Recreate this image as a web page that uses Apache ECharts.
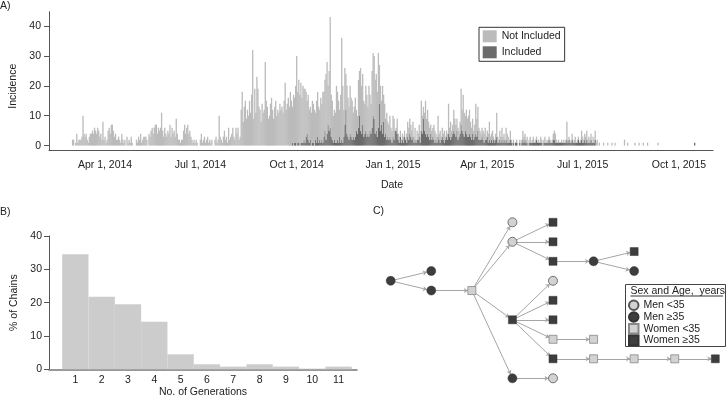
<!DOCTYPE html>
<html><head><meta charset="utf-8">
<script src="https://cdn.jsdelivr.net/npm/echarts@6/dist/echarts.min.js"></script>
<style>html,body{margin:0;padding:0;background:#fff}#c{width:727px;height:405px}</style>
</head><body><div id="c"></div>
<script>
// ---------- Panel A data ----------
const axisStart = '2014-02-07';
const axisEnd = '2015-11-02';
const casesStart = '2014-03-01';
const totalCases = [
2,2,0,1,4,1,2,2,2,3,
10,4,3,4,2,1,3,4,4,5,
4,6,5,4,6,5,3,4,2,8,
2,3,1,2,5,6,4,7,7,5,
3,4,2,2,3,2,1,4,2,1,
2,0,3,1,2,1,3,1,0,0,
0,2,1,3,2,4,1,2,3,3,
3,2,0,4,3,5,6,4,6,7,
7,4,6,5,6,11,5,3,6,4,
3,5,4,7,3,6,4,5,3,9,
4,2,2,1,2,2,5,7,4,6,
7,4,5,3,2,1,2,1,2,1,
0,0,2,4,1,2,3,1,2,3,
1,2,1,2,0,0,2,3,1,2,
10,3,2,1,3,5,2,3,1,6,
2,3,4,6,3,2,6,4,6,2,
3,12,18,8,13,15,9,12,10,15,
11,17,32,9,19,11,23,19,13,12,
8,14,11,12,28,15,13,9,10,14,
16,12,9,13,15,10,12,11,14,12,
13,11,15,21,12,14,16,13,18,15,
13,17,16,20,30,18,22,17,21,16,
20,19,19,18,15,17,12,13,11,15,
14,12,11,15,18,13,12,16,14,18,
18,22,24,28,20,25,43,17,15,10,
12,11,20,18,15,12,17,36,20,12,
26,24,20,16,13,20,16,15,11,13,
16,12,10,22,25,26,20,24,15,14,
20,17,13,20,17,14,25,31,30,22,
24,18,31,27,20,15,20,17,14,9,
11,8,7,10,6,5,10,9,5,6,
9,4,3,5,2,4,3,5,2,4,
8,6,9,7,5,8,3,6,2,5,
4,7,3,15,10,13,11,15,9,12,
8,6,7,5,6,7,5,4,3,10,
4,5,3,6,4,5,3,5,4,14,
6,8,5,7,12,9,7,9,6,5,
8,19,12,17,11,10,12,9,10,12,
8,6,9,5,7,14,9,13,6,5,
4,6,5,4,6,3,5,4,8,3,
4,5,3,2,4,11,3,2,5,3,
6,3,4,2,6,4,3,2,5,2,
1,2,0,1,2,1,0,2,1,2,
5,3,4,2,3,1,2,3,1,2,
3,1,2,3,1,2,1,3,2,1,
2,3,1,2,1,3,2,1,2,4,
5,4,2,1,2,1,1,2,1,2,
1,2,8,2,3,1,2,4,1,2,
3,1,2,3,1,2,5,3,2,4,
3,5,2,3,2,4,1,3,2,5,
1,2,0,1,0,0,0,1,0,0,
0,1,0,0,0,1,0,0,1,0,
0,0,0,0,0,0,0,2,0,0,
1,0,0,0,0,0,0,1,0,0,
0,1,0,0,0,1,0,0,0,1,
0,0,0,0,0,0,0,0,0,1,
0,0,0,0,0,0,0,0,0,0,
0,0,0,0,0,0,0,0,0,0,
0,0,0,0,0,0,0,0,0,0,
0,0,0,0,1
];
const includedStart = '2014-09-27';
const includedCases = [
1,0,1,1,0,1,1,0,1,1,
1,2,1,3,4,2,1,2,0,1,
1,0,2,1,3,1,2,1,2,1,
3,5,2,4,7,5,6,3,2,1,
2,1,1,2,1,3,1,2,1,3,
7,12,4,3,2,4,3,2,3,2,
3,5,4,6,10,5,4,7,3,4,
5,3,4,3,5,4,6,10,9,4,
5,3,6,14,5,7,4,8,3,4,
2,3,2,3,2,1,3,2,5,5,
4,2,1,3,1,2,1,3,2,1,
3,2,4,3,2,3,1,2,1,2,
2,3,1,5,4,9,5,4,3,4,
3,2,4,2,3,2,1,2,1,3,
2,1,2,3,2,1,2,3,2,4,
3,2,3,4,5,4,3,5,2,3,
4,7,5,4,3,5,4,3,3,4,
3,2,4,2,3,4,3,5,2,2,
2,3,2,1,2,2,3,1,2,1,
2,1,2,1,2,3,1,1,2,1,
2,1,2,1,2,1,1,1,2,1,
0,1,0,1,1,0,0,1,0,1,
2,1,2,1,1,0,1,1,1,1,
1,1,1,2,1,1,1,1,1,0,
1,1,1,1,1,2,1,1,1,2,
2,1,1,1,1,1,1,1,1,1,
1,1,2,1,2,1,1,2,1,1,
1,1,1,2,1,1,2,1,1,2,
1,2,1,1,1,2,1,1,1,2,
0,0,0,0,0,0,0,0,0,0,
0,0,0,0,0,0,0,0,0,0,
0,0,0,0,0,0,0,0,0,0,
0,0,0,0,0,0,0,0,0,0,
0,0,0,0,0,0,0,0,0,0,
0,0,0,0,0,0,0,0,0,0,
0,0,0,0,0,0,0,0,0,0,
0,0,0,0,0,0,0,0,0,0,
0,0,0,0,0,0,0,0,0,0,
0,0,0,0,1
];
const tickDates = ['2014-04-01','2014-07-01','2014-10-01','2015-01-01','2015-04-01','2015-07-01','2015-10-01'];
const tickLabels = ['Apr 1, 2014','Jul 1, 2014','Oct 1, 2014','Jan 1, 2015','Apr 1, 2015','Jul 1, 2015','Oct 1, 2015'];
const incidenceTicks = [0,10,20,30,40];

// ---------- Panel B data ----------
const generations = [1,2,3,4,5,6,7,8,9,10,11];
const chainPercent = [34.5,21.8,19.5,14.3,4.5,1.5,0.8,1.5,0.8,0.2,0.8];
const chainTicks = [0,10,20,30,40];

// ---------- Panel C data ----------
const nodeCategories = ['Men <35','Men \u226535','Women <35','Women \u226535'];
const nodeGeneration = [0,1,1,2,3,3,3,3,4,4,4,4,4,4,4,4,4,5,5,5,6,6,6,7,8];
const nodeRow        = [3,2.5,3.5,3.5,0,1,5,8,0,1,2,3,4,5,6,7,8,2,6,7,1.5,2.5,7,7,7];
const nodeGroup      = [1,1,1,2,0,0,3,1,3,3,3,0,3,3,2,3,0,1,2,2,3,1,2,2,3];
const chainLinks = [[0,1],[0,2],[2,3],[3,4],[3,5],[3,6],[3,7],[5,8],[5,9],[5,10],
  [6,11],[6,12],[6,13],[6,14],[6,15],[7,16],[10,17],[14,18],[15,19],[17,20],[17,21],
  [19,22],[22,23],[23,24]];

// ---------- build ----------
const DAY = 86400000;
const toMs = s => Date.parse(s + 'T00:00:00Z');
const keyOf = ms => new Date(ms).toISOString().slice(0,10);
const days = [];
for (let t = toMs(axisStart); t <= toMs(axisEnd); t += DAY) days.push(keyOf(t));
const totalOff = Math.round((toMs(casesStart) - toMs(axisStart)) / DAY);
const incOff = Math.round((toMs(includedStart) - toMs(axisStart)) / DAY);
const incSeries = days.map((d, i) => includedCases[i - incOff] || 0);
const notIncSeries = days.map((d, i) => Math.max(0, (totalCases[i - totalOff] || 0) - incSeries[i]));
const isTick = (idx, val) => tickDates.indexOf(val) >= 0;

const FONT = 'Liberation Sans, Arial, Helvetica, sans-serif';
const AX = '#555';
const TXT = '#222';
const LIGHT = '#bbbbbb', DARK = '#6b6b6b';
const NODE_LIGHT = '#d2d2d2', NODE_DARK = '#3d3d3d';
const lab = {fontSize: 10.5, color: TXT, fontFamily: FONT};

const chart = echarts.init(document.getElementById('c'), null, {renderer: 'canvas'});
chart.setOption({
  animation: false,
  textStyle: {fontFamily: FONT},
  grid: [
    {left: 49, right: 14, top: 11.7, height: 139, containLabel: false, outerBoundsMode: 'none'},
    {left: 49, width: 308, top: 236, height: 133.3, containLabel: false, outerBoundsMode: 'none'},
    {left: 390.7, width: 324.6, top: 222.3, height: 156, containLabel: false, outerBoundsMode: 'none'}
  ],
  xAxis: [
    {type: 'category', gridIndex: 0, data: days, boundaryGap: true,
     axisLine: {onZero: false, lineStyle: {color: AX, width: 1}},
     axisTick: {alignWithLabel: true, interval: isTick, length: 5, lineStyle: {color: AX}},
     axisLabel: Object.assign({interval: isTick, margin: 9,
       formatter: v => tickLabels[tickDates.indexOf(v)]}, lab),
     splitLine: {show: false},
     name: 'Date', nameLocation: 'middle', nameGap: 29,
     nameTextStyle: Object.assign({padding: [0, 0, 0, 22]}, lab)},
    {type: 'value', gridIndex: 1, min: 0, max: 11.7,
     axisLine: {show: true, onZero: false, lineStyle: {color: '#777', width: 1.5}},
     axisTick: {show: false},
     axisLabel: Object.assign({customValues: generations, margin: 5}, lab),
     splitLine: {show: false},
     name: 'No. of Generations', nameLocation: 'middle', nameGap: 11, nameTextStyle: lab},
    {type: 'value', gridIndex: 2, min: 0, max: 8, show: false}
  ],
  yAxis: [
    {type: 'value', gridIndex: 0, min: -1.7, max: 44.8,
     axisLine: {show: true, lineStyle: {color: AX}},
     axisTick: {show: true, customValues: incidenceTicks, length: 5, lineStyle: {color: AX}},
     axisLabel: Object.assign({customValues: incidenceTicks, margin: 8}, lab),
     splitLine: {show: false},
     name: 'Incidence', nameLocation: 'middle', nameGap: 29, nameRotate: 90,
     nameTextStyle: Object.assign({padding: [0, 10, 0, 0]}, lab)},
    {type: 'value', gridIndex: 1, min: 0, max: 40, interval: 10,
     axisLine: {show: true, lineStyle: {color: AX}},
     axisTick: {show: true, length: 5, lineStyle: {color: AX}},
     axisLabel: Object.assign({margin: 7}, lab),
     splitLine: {show: false},
     name: '% of Chains', nameLocation: 'middle', nameGap: 29, nameRotate: 90, nameTextStyle: lab},
    {type: 'value', gridIndex: 2, min: 0, max: 8, inverse: true, show: false}
  ],
  legend: [
    {data: ['Not Included', 'Included'], orient: 'vertical', left: 479, top: 27.3,
     icon: 'rect', itemWidth: 14, itemHeight: 12, itemGap: 4, padding: [3, 4, 3, 3.7],
     borderColor: '#333', borderWidth: 1,
     textStyle: {fontSize: 10.5, color: TXT, fontFamily: FONT, lineHeight: 12}, selectedMode: false},
    {data: [{name: nodeCategories[0], icon: 'circle'}, {name: nodeCategories[1], icon: 'circle'},
            {name: nodeCategories[2], icon: 'rect'}, {name: nodeCategories[3], icon: 'rect'}],
     orient: 'vertical', left: 628, top: 299.5, itemWidth: 9.5, itemHeight: 9.5, itemGap: 0.2, padding: 0,
     textStyle: {fontSize: 10.5, color: TXT, fontFamily: FONT, lineHeight: 9.5}, selectedMode: false}
  ],
  graphic: [
    {type: 'text', left: 0, top: 1, style: {text: 'A)', fontSize: 10.5, fill: TXT, font: '10.5px ' + FONT}},
    {type: 'text', left: 0, top: 207, style: {text: 'B)', fontSize: 10.5, fill: TXT, font: '10.5px ' + FONT}},
    {type: 'text', left: 373, top: 206, style: {text: 'C)', fontSize: 10.5, fill: TXT, font: '10.5px ' + FONT}},
    {type: 'rect', shape: {x: 625.5, y: 284.5, width: 100, height: 62}, style: {fill: '#fff', stroke: '#444', lineWidth: 1}, z: 1},
    {type: 'text', x: 630.5, y: 286, style: {text: 'Sex and Age,  years', font: '10.5px ' + FONT, fill: TXT}, z: 2},
    {type: 'line', shape: {x1: 630.5, y1: 296, x2: 723, y2: 296}, style: {stroke: '#333', lineWidth: 1}, z: 2}
  ],
  series: [
    {name: 'Included', type: 'bar', stack: 'a', xAxisIndex: 0, yAxisIndex: 0, data: incSeries,
     barWidth: 1.3, barGap: '-100%', itemStyle: {color: DARK}, emphasis: {disabled: true}, z: 2},
    {name: 'Not Included', type: 'bar', stack: 'a', xAxisIndex: 0, yAxisIndex: 0, data: notIncSeries,
     barWidth: 1.3, barGap: '-100%', itemStyle: {color: LIGHT}, emphasis: {disabled: true}, z: 2},
    {name: 'chains', type: 'bar', xAxisIndex: 1, yAxisIndex: 1,
     data: generations.map((g, i) => [g, chainPercent[i]]), barWidth: '100%',
     itemStyle: {color: '#cccccc'}, emphasis: {disabled: true}},
    {name: 'tree', type: 'graph', layout: 'none', coordinateSystem: 'cartesian2d', xAxisIndex: 2, yAxisIndex: 2,
     categories: [
       {name: nodeCategories[0], symbol: 'circle', symbolSize: 9, itemStyle: {color: NODE_LIGHT, borderColor: '#555', borderWidth: 0.8}},
       {name: nodeCategories[1], symbol: 'circle', symbolSize: 9, itemStyle: {color: NODE_DARK, borderColor: '#333', borderWidth: 0.5}},
       {name: nodeCategories[2], symbol: 'rect', symbolSize: 8, itemStyle: {color: NODE_LIGHT, borderColor: '#888', borderWidth: 0.8}},
       {name: nodeCategories[3], symbol: 'rect', symbolSize: 8, itemStyle: {color: NODE_DARK, borderColor: '#333', borderWidth: 0.5}}
     ],
     data: nodeGeneration.map((g, i) => ({name: 'n' + i, value: [g, nodeRow[i]], category: nodeGroup[i]})),
     links: chainLinks.map(l => ({source: l[0], target: l[1]})),
     edgeSymbol: ['none', 'arrow'], edgeSymbolSize: 4,
     lineStyle: {color: '#a5a5a5', width: 1, opacity: 1, curveness: 0},
     label: {show: false}, emphasis: {disabled: true}, roam: false, z: 3}
  ]
});
</script>
</body></html>
